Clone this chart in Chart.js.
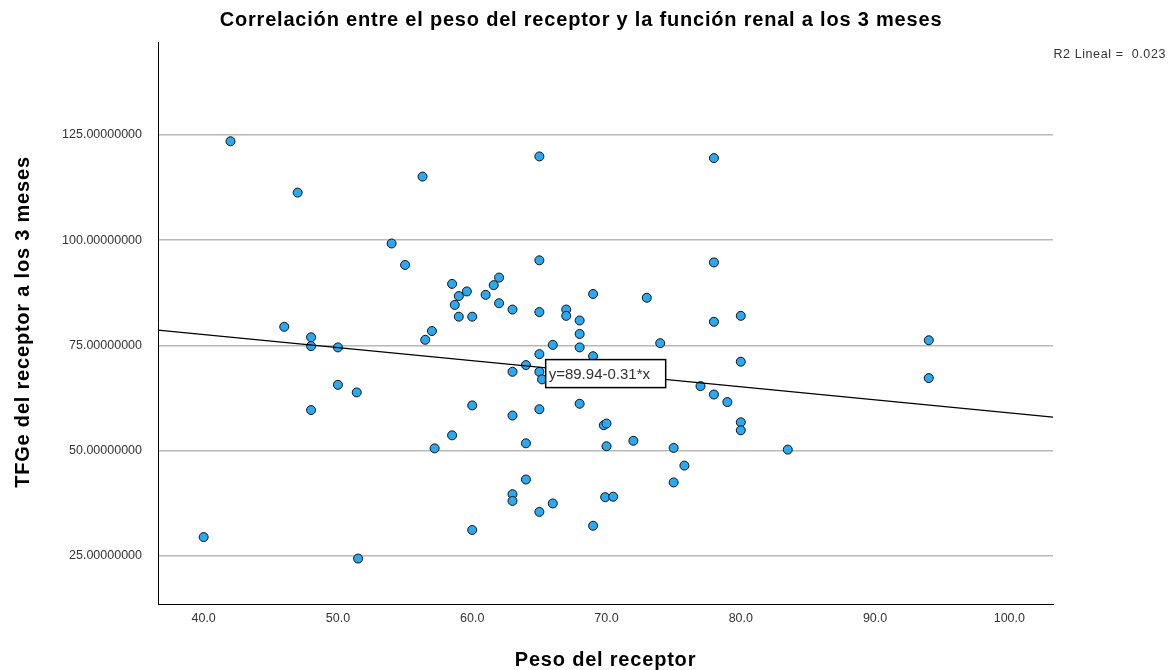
<!DOCTYPE html>
<html>
<head>
<meta charset="utf-8">
<script src="https://cdn.jsdelivr.net/npm/chart.js@4/dist/chart.umd.min.js"></script>
<style>
  html, body { margin: 0; padding: 0; background: #ffffff; }
  #wrap { width: 1168px; height: 670px; }
</style>
</head>
<body>
<div id="wrap"><canvas id="c" width="1168" height="670"></canvas></div>
<script>
// ---- Data ----
const pesoReceptor = [42.0,47.0,56.3,54.0,55.0,58.5,59.6,59.0,58.7,59.0,
  60.0,62.0,61.6,61.0,62.0,63.0,65.0,65.0,69.0,73.0,
  67.0,67.0,68.0,68.0,68.0,66.0,74.0,57.0,56.5,65.0,
  69.0,64.0,63.0,65.0,65.2,77.0,60.0,63.0,65.0,68.0,
  69.8,70.0,58.5,57.2,64.0,70.0,72.0,75.0,75.8,75.0,
  64.0,63.0,63.0,66.0,65.0,69.9,70.5,60.0,69.0,78.0,
  65.0,78.0,80.0,78.0,80.0,78.0,79.0,80.0,80.0,83.5,
  94.0,94.0,46.0,48.0,48.0,50.0,50.0,51.4,48.0,40.0,51.5];
const tfge3Meses = [123.5,111.3,115.1,99.2,94.1,89.6,87.8,86.7,84.6,81.8,
  81.8,91.1,89.3,87.0,85.0,83.5,95.2,82.9,87.2,86.3,
  83.5,82.0,80.9,77.7,74.5,75.1,75.5,78.4,76.3,72.9,
  72.4,70.3,68.7,68.7,66.9,65.3,60.7,58.3,59.8,61.1,
  56.0,56.4,53.6,50.5,51.7,51.0,52.3,50.6,46.4,42.4,
  43.1,39.6,38.0,37.4,35.4,38.9,39.0,31.1,32.1,119.5,
  119.9,94.7,82.0,80.6,71.1,63.3,61.5,56.7,54.8,50.2,
  76.2,67.2,79.4,76.9,74.8,74.5,65.6,63.8,59.6,29.4,24.3];
// fitted line end points (read at the plot edges)
const lineaX = [36.6, 103.25];
const lineaY = [78.6, 57.9];
const xTicks = [40, 50, 60, 70, 80, 90, 100];
const yTicks = [25, 50, 75, 100, 125];
const tituloGrafico = 'Correlación entre el peso del receptor y la función renal a los 3 meses';
const tituloX = 'Peso del receptor';
const tituloY = 'TFGe del receptor a los 3 meses';
const textoR2 = 'R2 Lineal =  0.023';
const textoEcuacion = 'y=89.94-0.31*x';

const puntos = pesoReceptor.map((w, i) => ({ x: w, y: tfge3Meses[i] }));
const linea = lineaX.map((x, i) => ({ x: x, y: lineaY[i] }));

const textPlugin = {
  id: 'textos',
  afterDatasetsDraw(chart) {
    const ctx = chart.ctx;
    const xs = chart.scales.x, ys = chart.scales.y;
    // equation box
    const bx = xs.getPixelForValue(65.47), by = ys.getPixelForValue(71.6);
    ctx.save();
    ctx.fillStyle = '#ffffff';
    ctx.fillRect(bx, by, 120, 28);
    ctx.strokeStyle = '#000000';
    ctx.lineWidth = 1.5;
    ctx.strokeRect(bx, by, 120, 28);
    ctx.fillStyle = '#333333';
    ctx.font = '15px "Liberation Sans", Arial, sans-serif';
    ctx.textBaseline = 'middle';
    ctx.textAlign = 'left';
    ctx.fillText(textoEcuacion, bx + 3, by + 15);
    ctx.restore();
  },
  afterDraw(chart) {
    const ctx = chart.ctx;
    const a = chart.chartArea;
    ctx.save();
    ctx.fillStyle = '#000000';
    ctx.textBaseline = 'middle';
    ctx.textAlign = 'center';
    ctx.font = 'bold 20px "Liberation Sans", Arial, sans-serif';
    ctx.letterSpacing = '0.8px';
    ctx.fillText(tituloGrafico, 581, 20);
    ctx.fillText(tituloX, (a.left + a.right) / 2, 660);
    ctx.save();
    ctx.translate(23, 322);
    ctx.rotate(-Math.PI / 2);
    ctx.fillText(tituloY, 0, 0);
    ctx.restore();
    ctx.font = '12.5px "Liberation Sans", Arial, sans-serif';
    ctx.letterSpacing = '0.6px';
    ctx.fillStyle = '#333333';
    ctx.textAlign = 'right';
    ctx.fillText(textoR2, 1166, 55);
    ctx.restore();
  }
};

new Chart(document.getElementById('c'), {
  type: 'scatter',
  data: {
    datasets: [
      {
        type: 'line',
        data: linea,
        borderColor: '#000000',
        borderWidth: 1.3,
        pointRadius: 0,
        fill: false,
        order: 0
      },
      {
        data: puntos,
        backgroundColor: '#2AA8F2',
        borderColor: '#111111',
        borderWidth: 1,
        pointRadius: 4.5,
        order: 1
      }
    ]
  },
  options: {
    responsive: false,
    animation: false,
    layout: { padding: { left: 0, top: 42, right: 115, bottom: 0 } },
    plugins: { legend: { display: false }, tooltip: { enabled: false }, title: { display: false } },
    scales: {
      x: {
        type: 'linear',
        min: 36.6,
        max: 103.25,
        afterFit: s => { s.height = 66; },
        afterBuildTicks: s => { s.ticks = xTicks.map(v => ({ value: v })); },
        grid: { display: false, drawTicks: false },
        border: { display: true, color: '#000000', width: 1 },
        ticks: {
          padding: 7,
          color: '#333333',
          font: { family: '"Liberation Sans", Arial, sans-serif', size: 12.5 },
          callback: v => Number(v).toFixed(1)
        }
      },
      y: {
        type: 'linear',
        min: 13.5,
        max: 147.1,
        afterFit: s => { s.width = 158; },
        afterBuildTicks: s => { s.ticks = yTicks.map(v => ({ value: v })); },
        grid: { display: true, drawTicks: false, color: '#b8b8b8', lineWidth: 1.5 },
        border: { display: true, color: '#000000', width: 1 },
        ticks: {
          padding: 16,
          color: '#333333',
          font: { family: '"Liberation Sans", Arial, sans-serif', size: 12.5 },
          callback: v => Number(v).toFixed(8)
        }
      }
    }
  },
  plugins: [textPlugin]
});
</script>
</body>
</html>
